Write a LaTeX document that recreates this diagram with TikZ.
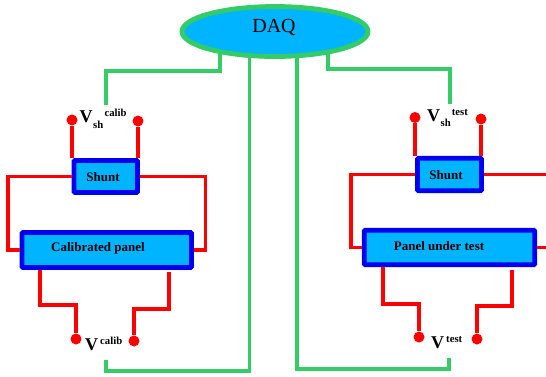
\documentclass[tikz,border=0pt]{standalone}
\usepackage{fontspec}
\setmainfont{Liberation Serif}
\usetikzlibrary{backgrounds, shapes.geometric}
\definecolor{fillcyan}{HTML}{00B4FF}
\definecolor{wiregreen}{HTML}{33CC66}
\definecolor{boxblue}{HTML}{0000F0}
\tikzset{
  boxnode/.style={draw=boxblue, fill=fillcyan, line width=4.8pt, rounded corners=1pt, inner sep=0pt},
  boxtext/.style={font=\fontsize{13}{13}\selectfont\bfseries, inner sep=0pt},
  terminal/.style={circle, fill=red, minimum size=11pt, inner sep=0pt},
  redwire/.style={draw=red, line width=3.6pt},
  greenwire/.style={draw=wiregreen, line width=3.6pt},
  bigV/.style={font=\fontsize{18}{18}\selectfont\bfseries, anchor=base west, inner sep=0pt},
  smalltag/.style={font=\fontsize{10.7}{11}\selectfont\bfseries, anchor=base west, inner sep=0pt}
}
\begin{document}
\begin{tikzpicture}[x=1pt, y=-1pt]
  \useasboundingbox (0,0) rectangle (546,376);

  % DAQ ellipse
  \node[ellipse, draw=wiregreen, fill=fillcyan, line width=4.8pt, minimum width=186pt,
        minimum height=50pt, inner sep=0pt] (daq) at (275,31.5) {};
  \node[inner sep=0pt, font=\fontsize{20}{20}\selectfont] (daqtext) at (274,27.5) {DAQ};

  % Left: calibrated panel
  \node[boxnode, minimum width=63.5pt, minimum height=32pt] (shuntc) at (105.75,176.5) {};
  \node[boxtext] (shuntctext) at (103,177) {Shunt};
  \node[boxnode, minimum width=169.5pt, minimum height=35pt] (panelc) at (106.75,250) {};
  \node[boxtext] (panelctext) at (98,248) {Calibrated panel};
  \node[terminal] (vshcL) at (72,120) {};
  \node[terminal] (vshcR) at (138,121) {};
  \node[terminal] (vcL) at (76,339) {};
  \node[terminal] (vcR) at (134,341) {};
  \node[bigV] (vshctext) at (79.5,122.7) {V};
  \node[smalltag] (vshcsub) at (93,128) {sh};
  \node[smalltag] (vshcsup) at (104.3,116) {calib};
  \node[bigV] (vctext) at (85,350) {V};
  \node[smalltag] (vcsup) at (100,344) {calib};

  % Right: panel under test
  \node[boxnode, minimum width=64pt, minimum height=32.5pt] (shuntt) at (449.5,174.5) {};
  \node[boxtext] (shuntttext) at (446,175) {Shunt};
  \node[boxnode, minimum width=170.5pt, minimum height=34.5pt] (panelt) at (449.5,247.5) {};
  \node[boxtext] (pantext) at (439,246) {Panel under test};
  \node[terminal] (vshtL) at (415,117.5) {};
  \node[terminal] (vshtR) at (481,119) {};
  \node[terminal] (vtL) at (419,337) {};
  \node[terminal] (vtR) at (477,339) {};
  \node[bigV] (vshttext) at (427,121.7) {V};
  \node[smalltag] (vshtsub) at (440.5,126.7) {sh};
  \node[smalltag] (vshtsup) at (451.7,115) {test};
  \node[bigV] (vttext) at (431,348) {V};
  \node[smalltag] (vtsup) at (446,342) {test};

  % corners and free ends
  \coordinate (ga) at (220,71);
  \coordinate (gb) at (106,105);
  \coordinate (gc) at (249.5,371);
  \coordinate (gd) at (106,360);
  \coordinate (ge) at (328,69);
  \coordinate (gf) at (450,104);
  \coordinate (gg) at (297,369);
  \coordinate (gh) at (449,358);
  \coordinate (ra) at (8,200);
  \coordinate (rb) at (205.5,200);
  \coordinate (rc) at (40,305);
  \coordinate (rd) at (169,308.7);
  \coordinate (re) at (351,200);
  \coordinate (rf) at (547,174);
  \coordinate (rg) at (547,248);
  \coordinate (rh) at (383,304);
  \coordinate (ri) at (512,306);

  % green wires go under the ellipse
  \begin{scope}[on background layer]
    \draw[greenwire] (daq -| ga) -- (ga) -| (gb);
    \draw[greenwire] (daq -| gc) -- (gc) -| (gd);
    \draw[greenwire] (daq -| ge) -- (ge) -| (gf);
    \draw[greenwire] (daq -| gg) -- (gg) -| (gh);
  \end{scope}

  % red wires, left
  \draw[redwire] (vshcL) -- (vshcL |- shuntc.north);
  \draw[redwire] (vshcR) -- (vshcR |- shuntc.north);
  \draw[redwire] (shuntc.west) -| (ra) |- (panelc.west);
  \draw[redwire] (shuntc.east) -| (rb) |- (panelc.east);
  \draw[redwire] (panelc.south -| rc) -- (rc) -| (vcL);
  \draw[redwire] ([yshift=-2.5pt]panelc.south -| rd) -- (rd) -| (vcR);

  % red wires, right
  \draw[redwire] (vshtL) -- (vshtL |- shuntt.north);
  \draw[redwire] (vshtR) -- (vshtR |- shuntt.north);
  \draw[redwire] (shuntt.west) -| (re) |- (panelt.west);
  \draw[redwire] (shuntt.east) -- (shuntt.east -| rf);
  \draw[redwire] (panelt.east) -- (panelt.east -| rg);
  \draw[redwire] (panelt.south -| rh) -- (rh) -| (vtL);
  \draw[redwire] ([yshift=-2.5pt]panelt.south -| ri) -- (ri) -| (vtR);
\end{tikzpicture}
\end{document}
